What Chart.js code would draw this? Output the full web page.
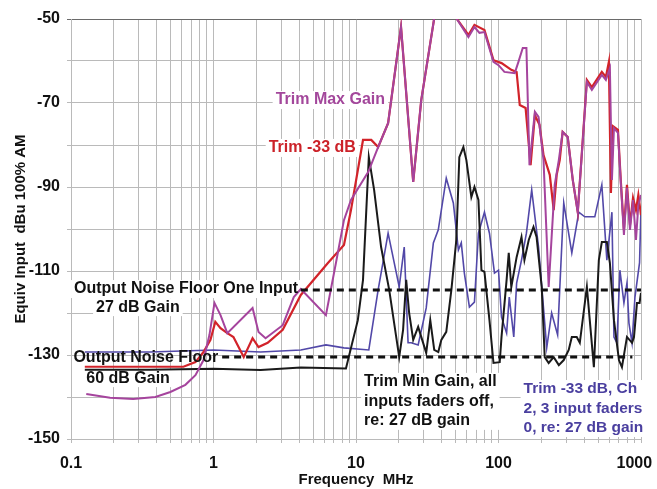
<!DOCTYPE html>
<html>
<head>
<meta charset="utf-8">
<script src="https://cdn.jsdelivr.net/npm/chart.js@4.4.1/dist/chart.umd.min.js"></script>
<style>
  html, body { margin: 0; padding: 0; background: #fff; }
</style>
</head>
<body>
<canvas id="chart" width="657" height="489"></canvas>
<script>
// ---- data (frequency in MHz, level in dBu) ----
const xTickValues = [0.1, 1, 10, 100, 1000];
const xTickLabels = ['0.1', '1', '10', '100', '1000'];
const yTickLabels = [-50, -70, -90, -110, -130, -150];

const maxGainFreq = [0.128, 0.188, 0.273, 0.391, 0.498, 0.635, 0.747, 0.851, 0.937, 1.016, 1.12, 1.25, 1.88, 2.07, 2.32, 3.06, 3.66, 4.1, 6.15, 7.23, 8.23, 9.22, 12.2, 14.3, 16.8, 20.7, 25.2, 28.7, 35.4, 42, 50.6, 61.5, 67.8, 73.5, 79.7, 92.2, 100, 110, 130, 138, 148, 157, 165, 180, 191, 207, 225, 248, 265, 282, 306, 332, 360, 417, 452, 531, 567, 605, 625, 646, 689, 723, 759, 797, 837, 879, 922, 958, 1000];
const maxGainDb = [-139.3, -140.2, -140.5, -140, -138.8, -137.1, -134.8, -131.2, -125.2, -117.6, -120.5, -124.8, -118.8, -124.5, -126, -122.9, -116.2, -114.3, -120.5, -108.1, -97.9, -93.1, -86.4, -80.5, -74.8, -51.9, -88.8, -69.3, -49.8, -45, -49.8, -54.3, -51.9, -53.3, -53.1, -60.2, -61, -62.6, -62.9, -60.2, -56.9, -56.9, -84.8, -72.1, -73.3, -83.6, -113.8, -89.5, -83.6, -76.9, -78.1, -88.3, -96, -65, -66.9, -63.3, -64.5, -61.7, -88.3, -76, -77.1, -89.5, -101.4, -90.2, -100.2, -93.1, -102.6, -94.3, -91.9];

const trim33Freq = [0.125, 0.26, 0.615, 0.747, 0.851, 0.952, 1.03, 1.12, 1.25, 1.38, 1.63, 1.88, 2.07, 2.4, 3.06, 4.1, 6.35, 8.23, 9.22, 11.2, 12.8, 14.3, 16.8, 20.7, 25.2, 28.7, 35.4, 42, 50.6, 61.5, 67.8, 79.7, 92.2, 105, 123, 134, 141, 155, 168, 180, 194, 207, 229, 244, 256, 269, 282, 306, 332, 360, 417, 452, 531, 567, 595, 615, 635, 689, 723, 759, 797, 837, 879, 922, 958, 1000];
const trim33Db = [-132.8, -132.8, -132.8, -131.7, -129.3, -126.4, -122.1, -123.6, -124.8, -125.7, -130.5, -126, -128.1, -127.1, -124, -115.7, -108.1, -103.8, -95.5, -78.8, -78.8, -80.5, -74.8, -51.9, -88.8, -69.3, -49.8, -45, -49.8, -53.8, -51.4, -52.6, -59.8, -60.5, -62.1, -62.6, -70.5, -71.2, -84.8, -72.9, -75.2, -82.4, -87.1, -95.5, -87.1, -83.6, -76.9, -78.1, -88.3, -96, -64.5, -66.2, -62.6, -63.8, -60.2, -91.4, -75.5, -76.4, -89, -100.2, -89.5, -99, -92.6, -95.5, -91.9, -96.7];

const minGainFreq = [0.125, 0.36, 1, 2.14, 4.1, 8.5, 10.3, 11.2, 12.3, 13.4, 15, 17.1, 20.1, 21.4, 22.5, 23.6, 25.2, 27.3, 31.1, 33.2, 35.4, 37.8, 39.7, 43, 46.7, 50.6, 53.1, 56.7, 59.5, 64.5, 67.8, 72.3, 75.9, 79.7, 86.4, 92.2, 102, 105, 114, 118, 123, 134, 145, 152, 163, 176, 185, 201, 211, 225, 244, 265, 287, 311, 327, 354, 372, 417, 467, 506, 531, 576, 605, 646, 700, 735, 797, 865, 893, 937, 977, 1000];
const minGainDb = [-133.5, -133.5, -133.3, -133.6, -133, -133.2, -121.7, -112.1, -82.9, -90.7, -104.3, -114.5, -130.5, -124, -112.1, -120, -126.4, -123.3, -129.5, -121.7, -128.8, -129.3, -126.4, -124.5, -114.5, -102.6, -82.9, -80.5, -83.6, -92.4, -90, -93.1, -109.8, -110.2, -121.7, -131.9, -131.7, -125.7, -112.1, -105.7, -113.8, -106.7, -101.9, -107.4, -102.6, -99.5, -101.9, -113.8, -130.5, -131.9, -130.5, -132.4, -131.2, -128.8, -125.7, -125.7, -127.1, -113.8, -132.9, -107.4, -103.1, -103.1, -108.1, -121.7, -131.2, -132.9, -125.7, -127.1, -125.7, -117.6, -117.6, -115.2];

const chFadersFreq = [0.125, 0.36, 1, 2.14, 4.1, 6.15, 8.23, 12.3, 14.3, 16.8, 20.1, 21.8, 23.2, 24.4, 27.3, 31.1, 34.9, 37.8, 43, 48.2, 52.3, 54.8, 57.6, 62.5, 67.8, 72.3, 79.7, 86.4, 93.7, 100, 105, 114, 119, 128, 134, 145, 157, 171, 191, 218, 236, 260, 287, 327, 366, 403, 474, 531, 576, 625, 646, 678, 711, 759, 797, 823, 865, 907, 977, 1000];
const chFadersDb = [-129.3, -129.3, -128.8, -129.3, -128.8, -127.6, -128.3, -128.8, -114.5, -101, -113.8, -104.3, -127.1, -127.1, -127.6, -118.8, -103.3, -100.2, -87.9, -93.8, -105, -103.3, -110.5, -118.6, -117.4, -101, -96, -101, -110.5, -109.8, -121, -124.8, -116.2, -125.7, -112.9, -107.4, -101, -90.7, -104.3, -128.3, -120, -125.2, -93.8, -105.7, -96, -97.1, -97.1, -89.5, -107.4, -96, -125.7, -127.1, -109.8, -117.6, -112.9, -122.4, -127.1, -116.2, -108, -95];

const floor27Freq = [4.1, 1000];
const floor27Db = [-114.5, -114.5];
const floor60Freq = [1.15, 870];
const floor60Db = [-130.5, -130.5];

// ---- helpers ----
const FONT = '"Liberation Sans", Arial, sans-serif';
Chart.defaults.font.family = FONT;

function pts(xs, ys) {
  return xs.map((x, i) => ({ x: x, y: ys[i] }));
}

// vertical grid at 1..9 of every decade
const xGridValues = [];
[0.1, 1, 10, 100].forEach(d => {
  for (let m = 1; m < 10; m++) xGridValues.push(+(m * d).toPrecision(6));
});
xGridValues.push(1000);

// text notes on the plot, anchored in data units (left edge, first line middle)
const notes = [
  { lines: ['Trim Max Gain'], f: 2.73, db: -69.3, color: '#a3479b', box: true },
  { lines: ['Trim -33 dB'], f: 2.44, db: -80.7, color: '#cc2229', box: true },
  { lines: ['Output Noise Floor One Input'], f: 0.105, db: -114.3, color: '#111', box: true },
  { lines: ['27 dB Gain'], f: 0.15, db: -118.6, color: '#111', box: true },
  { lines: ['Output Noise Floor'], f: 0.104, db: -130.6, color: '#111', box: false },
  { lines: ['60 dB Gain'], f: 0.128, db: -135.5, color: '#111', box: true },
  { lines: ['Trim Min Gain, all', 'inputs faders off,', 're: 27 dB gain'], f: 11.4, db: -136.4, color: '#111', box: true },
  { lines: ['Trim -33 dB, Ch', '2, 3 input faders', '0, re: 27 dB gain'], f: 150, db: -138.1, color: '#4a3f9f', box: true, size: 15.5 }
];
const LINE_GAP = 19.5;
const noteFont = n => 'bold ' + (n.size || 16) + 'px ' + FONT;

const notesPlugin = {
  id: 'notes',
  beforeDatasetsDraw(chart) {
    const { ctx, scales: { x, y } } = chart;
    ctx.save();
    ctx.fillStyle = '#fff';
    notes.forEach(n => {
      if (!n.box) return;
      ctx.font = noteFont(n);
      const px = x.getPixelForValue(n.f);
      const py = y.getPixelForValue(n.db);
      const w = Math.max(...n.lines.map(l => ctx.measureText(l).width));
      const h = (n.lines.length - 1) * LINE_GAP;
      ctx.fillRect(px - 3, py - 9, w + 6, h + 18);
    });
    ctx.restore();
  },
  afterDatasetsDraw(chart) {
    const { ctx, scales: { x, y } } = chart;
    ctx.save();
    ctx.textAlign = 'left';
    ctx.textBaseline = 'middle';
    notes.forEach(n => {
      ctx.font = noteFont(n);
      const px = x.getPixelForValue(n.f);
      const py = y.getPixelForValue(n.db);
      ctx.fillStyle = n.color;
      n.lines.forEach((l, i) => ctx.fillText(l, px, py + i * LINE_GAP));
    });
    ctx.restore();
  }
};

function lineSet(label, data, color, width, order) {
  return {
    label: label, data: data, showLine: true, borderColor: color, backgroundColor: color,
    borderWidth: width, pointRadius: 0, tension: 0, order: order
  };
}

new Chart(document.getElementById('chart'), {
  type: 'scatter',
  data: {
    datasets: [
      Object.assign(lineSet('Output Noise Floor One Input 27 dB Gain', pts(floor27Freq, floor27Db), '#111', 3, 0), { borderDash: [7, 5] }),
      Object.assign(lineSet('Output Noise Floor 60 dB Gain', pts(floor60Freq, floor60Db), '#111', 3, 0), { borderDash: [7, 5] }),
      lineSet('Trim Max Gain', pts(maxGainFreq, maxGainDb), '#a5449d', 2, 1),
      lineSet('Trim -33 dB', pts(trim33Freq, trim33Db), '#d2232a', 2.2, 2),
      lineSet('Trim Min Gain', pts(minGainFreq, minGainDb), '#1a1a1a', 2, 3),
      lineSet('Trim -33 dB, Ch 2, 3 input faders 0', pts(chFadersFreq, chFadersDb), '#5248a8', 1.6, 4)
    ]
  },
  options: {
    responsive: false,
    animation: false,
    layout: { padding: { top: 19, right: 16, left: 0, bottom: 0 } },
    plugins: { legend: { display: false }, tooltip: { enabled: false } },
    scales: {
      x: {
        type: 'logarithmic',
        min: 0.1,
        max: 1000,
        afterBuildTicks: s => { s.ticks = xGridValues.map(v => ({ value: v })); },
        afterFit: s => { s.height = 50; s.paddingLeft = 0; s.paddingRight = 0; },
        ticks: {
          autoSkip: false, maxRotation: 0, padding: 11, color: '#111',
          font: { size: 16, weight: 'bold' },
          callback: v => {
            const i = xTickValues.findIndex(t => Math.abs(v - t) / t < 1e-6);
            if (i < 0) return '';
            // last label sits at the canvas edge; pad it so it stays inside
            return i === xTickValues.length - 1 ? xTickLabels[i] + '   ' : xTickLabels[i];
          }
        },
        grid: { color: '#bababa', lineWidth: 1, tickLength: 4 },
        border: { color: '#bababa' },
        title: {
          display: true, text: 'Frequency  MHz', color: '#111',
          font: { size: 15, weight: 'bold' }, padding: { top: 0, bottom: 0 }
        }
      },
      y: {
        min: -150,
        max: -50,
        afterFit: s => { s.width = 71; },
        ticks: {
          stepSize: 10, autoSkip: false, padding: 7, color: '#111',
          font: { size: 16, weight: 'bold' },
          callback: v => yTickLabels.includes(v) ? String(v) : ''
        },
        grid: {
          color: c => (c.tick && c.tick.value === -50) ? '#6a6a6a' : '#bababa',
          lineWidth: 1, tickLength: 4
        },
        border: { color: '#bababa' },
        title: {
          display: true, text: 'Equiv Input  dBu 100% AM', color: '#111',
          font: { size: 15, weight: 'bold' }, padding: { top: 12, bottom: 0 }
        }
      }
    }
  },
  plugins: [notesPlugin]
});
</script>
</body>
</html>
